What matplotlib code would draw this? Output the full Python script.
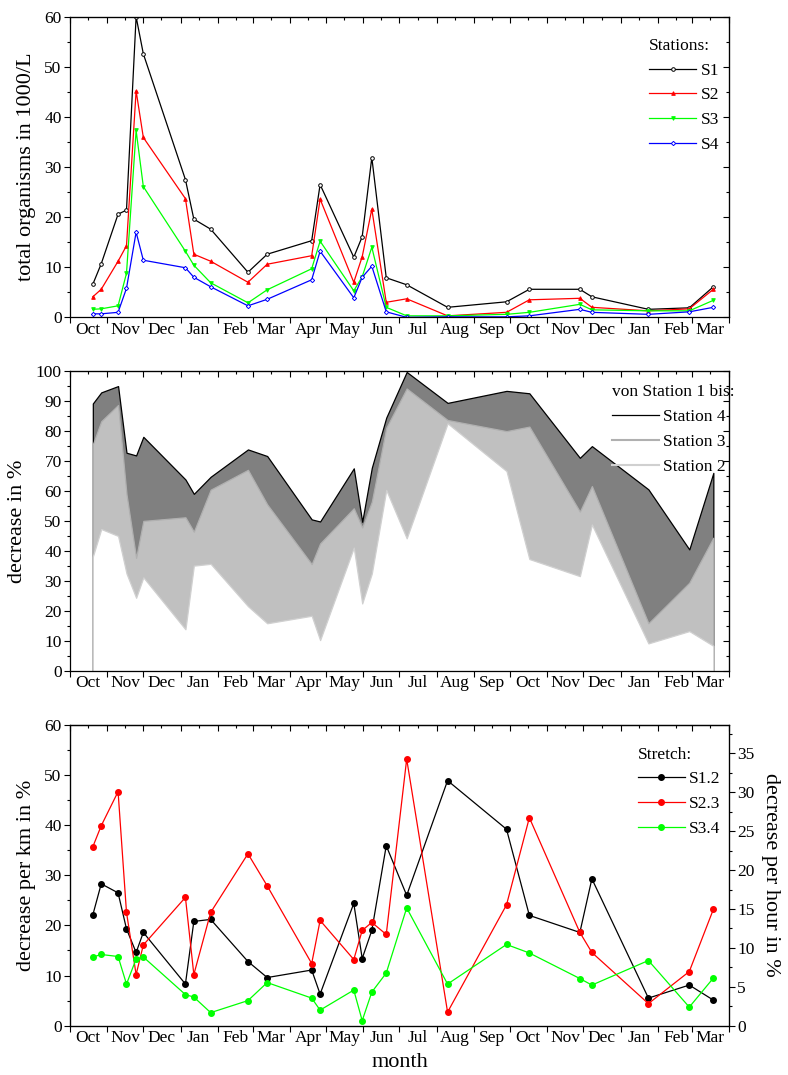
import matplotlib
matplotlib.use('Agg')
import matplotlib.pyplot as plt
import matplotlib.dates as mdates
from matplotlib.ticker import MultipleLocator, NullFormatter
import pandas as pd

plt.rcParams['font.family'] = ['Liberation Serif', 'DejaVu Serif']
plt.rcParams['font.size'] = 12

# sampling dates
dates = ['1995-10-20', '1995-10-27', '1995-11-10', '1995-11-17', '1995-11-25',
         '1995-12-01', '1996-01-05', '1996-01-12', '1996-01-26', '1996-02-26',
         '1996-03-13', '1996-04-19', '1996-04-26', '1996-05-24', '1996-05-31',
         '1996-06-08', '1996-06-20', '1996-07-07', '1996-08-10', '1996-09-28',
         '1996-10-17', '1996-11-28', '1996-12-08', '1997-01-24', '1997-02-27',
         '1997-03-19']

# total organisms in 1000/L
s1 = [6.6, 10.7, 20.6, 21.4, 60.0, 52.6, 27.5, 19.6, 17.6, 9.0, 12.6, 15.3, 26.5,
      12.0, 16.1, 31.9, 7.9, 6.5, 2.0, 3.1, 5.6, 5.6, 4.1, 1.6, 1.9, 6.1]
s2 = [4.1, 5.6, 11.2, 14.3, 45.2, 35.9, 23.7, 12.6, 11.2, 7.0, 10.6, 12.3, 23.6,
      7.0, 12.1, 21.6, 3.0, 3.7, 0.3, 1.0, 3.5, 3.8, 2.0, 1.3, 1.7, 5.6]
s3 = [1.6, 1.7, 2.3, 8.8, 37.3, 26.1, 13.2, 10.4, 6.9, 2.9, 5.5, 9.7, 15.2,
      5.3, 8.1, 14.0, 2.0, 0.3, 0.3, 0.6, 1.0, 2.6, 1.5, 1.3, 1.3, 3.4]
s4 = [0.7, 0.7, 1.0, 5.8, 17.0, 11.4, 9.9, 8.0, 6.1, 2.3, 3.6, 7.5, 13.2,
      3.9, 8.0, 10.2, 1.1, 0.0, 0.1, 0.1, 0.3, 1.6, 1.0, 0.6, 1.1, 2.0]

# decrease in % from station 1
st4 = [89.1, 92.8, 94.9, 72.7, 71.8, 78.0, 63.8, 59.0, 64.7, 73.8, 71.6, 50.5, 49.8,
       67.5, 49.7, 67.7, 84.4, 99.6, 89.3, 93.3, 92.5, 71.0, 74.9, 60.5, 40.5, 66.0]
st3 = [75.5, 83.2, 88.6, 58.9, 37.7, 50.0, 51.2, 46.4, 60.4, 67.0, 55.5, 35.6, 42.5,
       54.2, 47.8, 56.4, 81.0, 94.1, 83.6, 79.9, 81.4, 53.1, 61.6, 15.9, 29.4, 44.4]
st2 = [38.1, 47.3, 45.0, 32.5, 24.4, 31.2, 13.9, 35.1, 35.7, 21.6, 15.9, 18.4, 10.3,
       41.1, 22.5, 32.5, 60.3, 44.2, 82.5, 66.6, 37.3, 31.6, 48.8, 9.2, 13.3, 8.4]

# decrease per km in %
s12 = [22.1, 28.3, 26.5, 19.3, 14.6, 18.6, 8.3, 20.8, 21.2, 12.8, 9.6, 11.1, 6.3,
       24.4, 13.4, 19.0, 35.9, 26.0, 48.9, 39.2, 22.0, 18.6, 29.3, 5.5, 8.1, 5.1]
s23 = [35.7, 39.9, 46.7, 22.6, 10.2, 16.1, 25.6, 10.2, 22.6, 34.3, 27.9, 12.4, 21.0,
       13.2, 19.0, 20.6, 18.2, 53.2, 2.7, 24.1, 41.5, 18.6, 14.6, 4.4, 10.8, 23.2]
s34 = [13.7, 14.2, 13.8, 8.3, 13.3, 13.7, 6.2, 5.7, 2.6, 5.0, 8.6, 5.5, 3.1,
       7.1, 1.0, 6.7, 10.5, 23.5, 8.3, 16.2, 14.5, 9.4, 8.1, 13.0, 3.7, 9.5]

hour_max = 38.65  # right axis top (decrease per hour)

x = mdates.date2num(pd.to_datetime(dates).to_pydatetime())
xlim = mdates.date2num(pd.to_datetime(['1995-10-01', '1997-04-01']).to_pydatetime())


def style_axes(ax, ymax, ystep, right_ticks=True):
    ax.set_xlim(xlim)
    ax.set_ylim(0, ymax)
    ax.xaxis.set_major_locator(mdates.MonthLocator())
    ax.xaxis.set_major_formatter(NullFormatter())
    ax.xaxis.set_minor_locator(mdates.MonthLocator(bymonthday=16))
    ax.xaxis.set_minor_formatter(mdates.DateFormatter('%b'))
    ax.tick_params(axis='x', which='major', direction='out', length=4, width=0.8)
    ax.tick_params(axis='x', which='minor', length=0, pad=3, labelsize=12.5)
    ax.yaxis.set_major_locator(MultipleLocator(ystep))
    ax.yaxis.set_minor_locator(MultipleLocator(ystep / 2))
    ax.tick_params(axis='y', which='major', direction='out', length=4, width=0.8,
                   pad=2, labelsize=12.5)
    ax.tick_params(axis='y', which='minor', direction='out', length=2.5, width=0.8)
    for sp in ax.spines.values():
        sp.set_linewidth(0.9)

    top = ax.secondary_xaxis('top')
    top.xaxis.set_major_locator(mdates.MonthLocator())
    top.xaxis.set_minor_locator(mdates.MonthLocator(bymonthday=16))
    top.xaxis.set_major_formatter(NullFormatter())
    top.xaxis.set_minor_formatter(NullFormatter())
    top.tick_params(which='major', direction='in', length=4, width=0.8)
    top.tick_params(which='minor', direction='in', length=2.5, width=0.8)

    if right_ticks:
        right = ax.secondary_yaxis('right')
        right.yaxis.set_major_locator(MultipleLocator(ystep))
        right.yaxis.set_minor_locator(MultipleLocator(ystep / 2))
        right.yaxis.set_major_formatter(NullFormatter())
        right.tick_params(which='major', direction='in', length=4, width=0.8)
        right.tick_params(which='minor', direction='in', length=2.5, width=0.8)


fig = plt.figure(figsize=(7.88, 10.75), dpi=100)
ax1 = fig.add_axes([0.0888, 0.7048, 0.8363, 0.2796])
ax2 = fig.add_axes([0.0888, 0.3758, 0.8363, 0.2793])
ax3 = fig.add_axes([0.0888, 0.0459, 0.8363, 0.2797])

leg_kw = dict(loc='upper left', frameon=False, fontsize=12.5, title_fontsize=12.5,
              handlelength=2.7, handletextpad=0.25, labelspacing=0.5,
              borderpad=0, borderaxespad=0, alignment='left')

# top panel
ax1.plot(x, s1, color='black', lw=0.9, marker='o', ms=2.6, mfc='white', mew=0.7, label='S1')
ax1.plot(x, s2, color='#ff0000', lw=0.9, marker='^', ms=2.6, mew=0.7, label='S2')
ax1.plot(x, s3, color='#00ff00', lw=0.9, marker='v', ms=2.6, mew=0.7, label='S3')
ax1.plot(x, s4, color='#0000ff', lw=0.9, marker='D', ms=2.2, mfc='white', mew=0.7, label='S4')
style_axes(ax1, 60, 10)
ax1.set_ylabel('total organisms in 1000/L', fontsize=16, labelpad=6)
ax1.legend(title='Stations:', bbox_to_anchor=(0.879, 0.93), **leg_kw)

# middle panel
ax2.fill_between(x, 0, st4, facecolor='#808080', edgecolor='black', lw=0.9, label='Station 4')
ax2.fill_between(x, 0, st3, facecolor='#c0c0c0', edgecolor='#b0b0b0', lw=0.9, label='Station 3')
ax2.fill_between(x, 0, st2, facecolor='white', edgecolor='#d0d0d0', lw=0.9, label='Station 2')
style_axes(ax2, 100, 10)
ax2.set_ylabel('decrease in %', fontsize=16, labelpad=6)
h4 = plt.Line2D([], [], color='black', lw=0.9)
h3 = plt.Line2D([], [], color='#b0b0b0', lw=1.5)
h2 = plt.Line2D([], [], color='#d0d0d0', lw=1.5)
ax2.legend([h4, h3, h2], ['Station 4', 'Station 3', 'Station 2'],
           title='von Station 1 bis:', bbox_to_anchor=(0.822, 0.955), **leg_kw)

# bottom panel
ax3.plot(x, s12, color='black', lw=0.9, marker='o', ms=4, label='S1.2')
ax3.plot(x, s23, color='#ff0000', lw=0.9, marker='o', ms=4, label='S2.3')
ax3.plot(x, s34, color='#00ff00', lw=0.9, marker='o', ms=4, label='S3.4')
style_axes(ax3, 60, 10, right_ticks=False)
ax3.set_ylabel('decrease per km in %', fontsize=16, labelpad=6)
ax3.set_xlabel('month', fontsize=16, labelpad=5)
ax3.legend(title='Stretch:', bbox_to_anchor=(0.862, 0.928), **leg_kw)

axr = ax3.twinx()
axr.set_xlim(xlim)
axr.set_ylim(0, hour_max)
axr.yaxis.set_major_locator(MultipleLocator(5))
axr.yaxis.set_minor_locator(MultipleLocator(2.5))
axr.tick_params(axis='y', which='major', direction='out', length=4, width=0.8,
                pad=2, labelsize=12.5)
axr.tick_params(axis='y', which='minor', direction='out', length=2.5, width=0.8)
axr.set_ylabel('decrease per hour in %', fontsize=16, rotation=270, labelpad=18)
axr.xaxis.set_visible(False)

fig.savefig('out.png', dpi=100)
